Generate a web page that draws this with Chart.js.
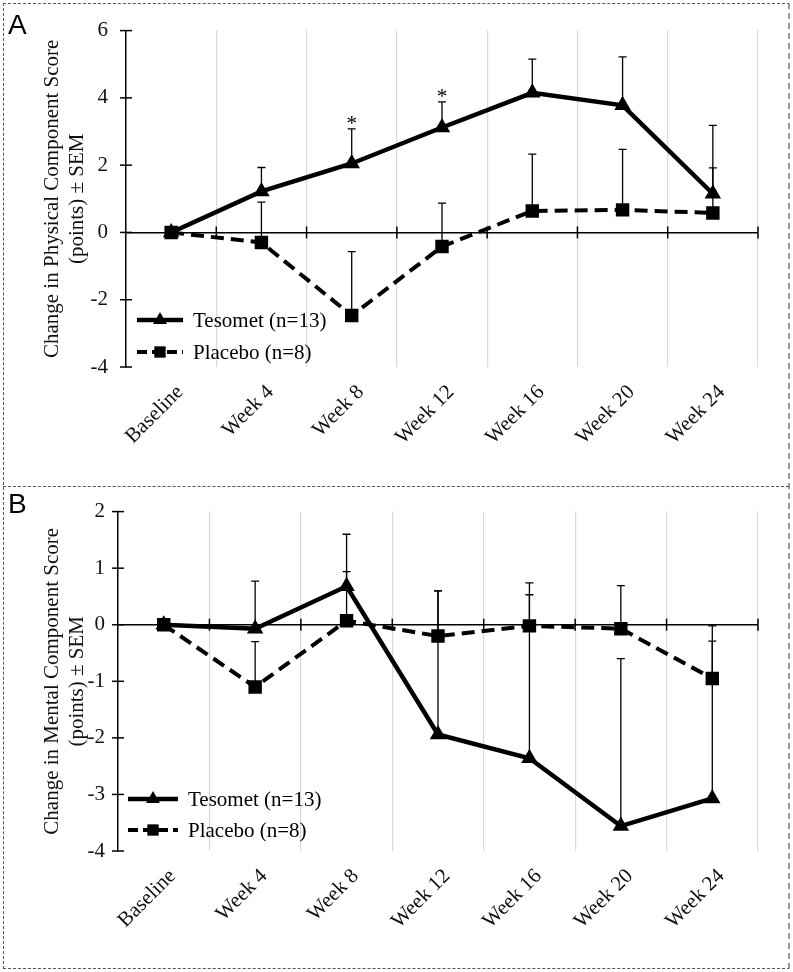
<!DOCTYPE html>
<html lang="en">
<head>
<meta charset="UTF-8">
<title>Tesomet vs Placebo – SF-36 component scores</title>
<script src="https://cdn.jsdelivr.net/npm/chart.js"></script>
<style>
  body {
    margin: 0;
    background: #fff;
    width: 793px;
    height: 972px;
    position: relative;
    overflow: hidden;
  }
  .panel { position: absolute; left: 0; width: 793px; height: 486px; }
  #panelA { top: 0; }
  #panelB { top: 486px; }
  .frame {
    position: absolute; left: 3px; top: 3px; width: 787px; height: 966px;
    box-sizing: border-box;
    border: 1px dashed #555;
    border-right: 2px dashed #999;
  }
  .divider { position: absolute; left: 3px; top: 486px; width: 786px; border-top: 1px dashed #555; }
  .letter {
    position: absolute; left: 8px;
    font-family: "Liberation Sans", Arial, sans-serif;
    font-size: 28px; line-height: 1; color: #000;
  }
</style>
</head>
<body>

<div class="frame"></div>
<div class="divider"></div>
<div class="panel" id="panelA"><canvas id="chartA" width="793" height="486"></canvas></div>
<div class="panel" id="panelB"><canvas id="chartB" width="793" height="486"></canvas></div>
<div class="letter" style="top:11px">A</div>
<div class="letter" style="top:490px">B</div>

<script>
  // categories
  const weeks = ['Baseline', 'Week 4', 'Week 8', 'Week 12', 'Week 16', 'Week 20', 'Week 24'];
  const tesometLabel = 'Tesomet (n=13)';
  const placeboLabel = 'Placebo (n=8)';

  // A: physical component score (mean change and SEM)
  const physTesomet    = [0, 1.22, 2.05, 3.12, 4.15, 3.78, 1.15];
  const physTesometSem = [0, 0.71, 1.03, 0.76, 1.00, 1.44, 2.03];
  const physPlacebo    = [0, -0.30, -2.47, -0.42, 0.64, 0.67, 0.58];
  const physPlaceboSem = [0, 1.20, 1.90, 1.29, 1.69, 1.80, 1.34];
  const physStars      = ['', '', '*', '*', '', '', ''];
  const physTicks      = [-4, -2, 0, 2, 4, 6];

  // B: mental component score
  const mentTesomet    = [0, -0.07, 0.68, -1.94, -2.36, -3.56, -3.07];
  const mentTesometSem = [0, 0.84, 0.92, 2.54, 3.10, 2.96, 3.05];
  const mentPlacebo    = [0, -1.10, 0.07, -0.20, -0.02, -0.07, -0.95];
  const mentPlaceboSem = [0, 0.80, 0.87, 0.80, 0.55, 0.76, 0.66];
  const mentTicks      = [-4, -3, -2, -1, 0, 1, 2];

  const SERIF = '"Liberation Serif", "Times New Roman", serif';
  const FS = 21;

  // error bars (upper half only), significance stars, crossing tick marks
  const errorBars = {
    id: 'errorBars',
    beforeDatasetsDraw(chart) {
      const ctx = chart.ctx;
      const x = chart.scales.x, y = chart.scales.y;
      const area = chart.chartArea;
      ctx.save();
      ctx.strokeStyle = '#000';
      ctx.lineWidth = 1.5;
      // ticks crossing the y axis
      y.ticks.forEach(t => {
        const py = y.getPixelForValue(t.value);
        ctx.beginPath();
        ctx.moveTo(area.left - 6, py);
        ctx.lineTo(area.left + 6, py);
        ctx.stroke();
      });
      // ticks on the zero line at category boundaries
      const y0 = y.getPixelForValue(0);
      for (let i = 1; i <= weeks.length; i++) {
        const bx = x.getPixelForValue(i - 0.5);
        ctx.beginPath();
        ctx.moveTo(bx, y0 - 6);
        ctx.lineTo(bx, y0 + 6);
        ctx.stroke();
      }
      // error bars
      ctx.lineWidth = 1.3;
      chart.data.datasets.forEach((ds, i) => {
        const meta = chart.getDatasetMeta(i);
        ds.sem.forEach((s, j) => {
          if (!s) return;
          const px = meta.data[j].x;
          const py = meta.data[j].y;
          const top = y.getPixelForValue(ds.data[j] + s);
          ctx.beginPath();
          ctx.moveTo(px, py);
          ctx.lineTo(px, top);
          ctx.moveTo(px - 4, top);
          ctx.lineTo(px + 4, top);
          ctx.stroke();
          if (ds.stars && ds.stars[j]) {
            ctx.fillStyle = '#000';
            ctx.font = FS + 'px ' + SERIF;
            ctx.textAlign = 'center';
            ctx.textBaseline = 'alphabetic';
            ctx.fillText(ds.stars[j], px, top + 1);
          }
        });
      });
      ctx.restore();
    }
  };

  // legend drawn inside the plot: line sample with marker, then label
  const lineLegend = {
    id: 'lineLegend',
    afterDatasetsDraw(chart, args, opts) {
      const ctx = chart.ctx;
      const area = chart.chartArea;
      ctx.save();
      chart.data.datasets.forEach((ds, i) => {
        const x0 = area.left + opts.x;
        const yy = area.bottom + opts.rows[i];
        ctx.strokeStyle = '#000';
        ctx.lineWidth = ds.borderWidth;
        ctx.setLineDash(ds.borderDash ? opts.dash : []);
        ctx.beginPath();
        ctx.moveTo(x0, yy);
        ctx.lineTo(x0 + opts.sample, yy);
        ctx.stroke();
        ctx.setLineDash([]);
        ctx.fillStyle = '#000';
        Chart.helpers.drawPoint(ctx, {pointStyle: ds.pointStyle, rotation: 0, radius: 8, borderWidth: 0},
          x0 + opts.sample / 2, yy);
        ctx.font = FS + 'px ' + SERIF;
        ctx.textAlign = 'left';
        ctx.textBaseline = 'middle';
        ctx.fillText(ds.label, x0 + opts.sample + 10, yy + 1);
      });
      ctx.restore();
    }
  };

  function makeChart(id, cfg) {
    const tesomet = {
      label: tesometLabel,
      data: cfg.tesomet,
      sem: cfg.tesometSem,
      stars: cfg.stars,
      borderColor: '#000',
      backgroundColor: '#000',
      borderWidth: 4.5,
      pointStyle: 'triangle',
      pointRadius: 9.5,
      pointBorderWidth: 0,
      pointBackgroundColor: '#000',
      tension: 0,
      order: 2
    };
    const placebo = {
      label: placeboLabel,
      data: cfg.placebo,
      sem: cfg.placeboSem,
      borderColor: '#000',
      backgroundColor: '#000',
      borderWidth: 4,
      borderDash: [13, 7],
      pointStyle: 'rect',
      pointRadius: 9.5,
      pointBorderWidth: 0,
      pointBackgroundColor: '#000',
      tension: 0,
      order: 1
    };
    return new Chart(document.getElementById(id), {
      type: 'line',
      data: { labels: weeks, datasets: [tesomet, placebo] },
      options: {
        responsive: false,
        animation: false,
        layout: { padding: { top: cfg.top, right: 35, left: 0, bottom: 0 } },
        plugins: {
          legend: { display: false },
          tooltip: { enabled: false },
          lineLegend: cfg.legend
        },
        scales: {
          x: {
            offset: true,
            grid: {
              offset: true,
              drawTicks: false,
              lineWidth: 1.2,
              color: c => c.index === 0 ? 'transparent' : '#d9d9d9'
            },
            border: { display: false },
            ticks: {
              color: '#111',
              font: { family: SERIF, size: FS },
              minRotation: 45,
              maxRotation: 45,
              padding: 13,
              labelOffset: 9
            },
            afterFit: s => { s.height = cfg.xHeight; }
          },
          y: {
            min: cfg.ticks[0],
            max: cfg.ticks[cfg.ticks.length - 1],
            afterBuildTicks: s => { s.ticks = cfg.ticks.map(v => ({ value: v })); },
            grid: {
              drawTicks: false,
              lineWidth: 1.5,
              color: c => c.tick && c.tick.value === 0 ? '#000' : 'transparent'
            },
            border: { display: true, color: '#000', width: 1.5 },
            ticks: {
              color: '#111',
              font: { family: SERIF, size: FS },
              padding: cfg.tickPad
            },
            title: {
              display: true,
              text: cfg.title,
              color: '#111',
              font: { family: SERIF, size: FS, lineHeight: 1.2 },
              padding: { top: 40, bottom: 0 }
            },
            afterFit: s => { s.width = cfg.yWidth; }
          }
        }
      },
      plugins: [errorBars, lineLegend]
    });
  }

  makeChart('chartA', {
    tesomet: physTesomet, tesometSem: physTesometSem,
    placebo: physPlacebo, placeboSem: physPlaceboSem,
    stars: physStars, ticks: physTicks,
    title: ['Change in Physical Component Score', '(points) \u00b1 SEM'],
    top: 25, xHeight: 119, yWidth: 126, tickPad: 18,
    legend: { x: 11, rows: [-47, -15], sample: 46, dash: [10, 5] }
  });

  makeChart('chartB', {
    tesomet: mentTesomet, tesometSem: mentTesometSem,
    placebo: mentPlacebo, placeboSem: mentPlaceboSem,
    stars: null, ticks: mentTicks,
    title: ['Change in Mental Component Score', '(points) \u00b1 SEM'],
    top: 22, xHeight: 121, yWidth: 118, tickPad: 13,
    legend: { x: 10, rows: [-52, -21], sample: 50, dash: [10, 5] }
  });
</script>

</body>
</html>
